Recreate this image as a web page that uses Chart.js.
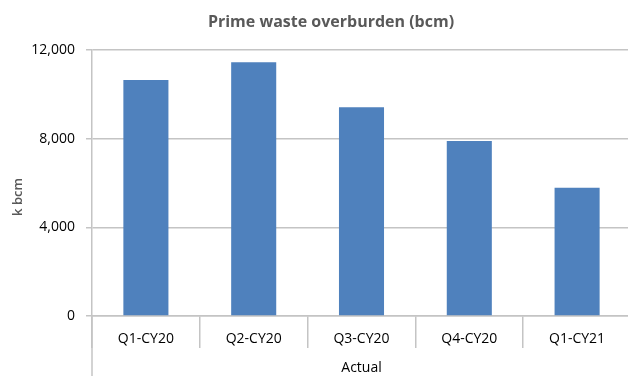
<!DOCTYPE html>
<html>
<head>
<meta charset="utf-8">
<script src="https://cdn.jsdelivr.net/npm/chart.js@4/dist/chart.umd.min.js"></script>
<style>
  html, body { margin: 0; padding: 0; background: #fff; overflow: hidden; }
  #wrap { position: relative; width: 648px; height: 376px; }
</style>
</head>
<body>
<div id="wrap"><canvas id="chart"></canvas></div>
<script>
// Quarterly prime waste overburden, thousand bank cubic metres
const categories = ['Q1-CY20', 'Q2-CY20', 'Q3-CY20', 'Q4-CY20', 'Q1-CY21'];
const overburden = [10650, 11460, 9420, 7900, 5790];
const yTicks = [0, 4000, 8000, 12000];
const groupLabel = 'Actual';
const yTitle = 'k bcm';
const chartTitle = 'Prime waste overburden (bcm)';

const GRID = '#C4C4C4';
Chart.defaults.font.family = "'Open Sans', sans-serif";

// Group bracket under the category labels plus the rotated unit label
const extras = {
  id: 'extras',
  afterDraw(chart) {
    const { ctx, chartArea } = chart;
    ctx.save();
    ctx.strokeStyle = GRID;
    ctx.lineWidth = 1.5;
    [chartArea.left, chartArea.right].forEach(px => {
      ctx.beginPath();
      ctx.moveTo(px, chartArea.bottom);
      ctx.lineTo(px, chart.height);
      ctx.stroke();
    });
    ctx.translate(18, 197);
    ctx.rotate(-Math.PI / 2);
    ctx.fillStyle = '#595959';
    ctx.font = "600 13px 'Open Sans', sans-serif";
    ctx.textAlign = 'center';
    ctx.textBaseline = 'middle';
    ctx.fillText(yTitle, 0, 0);
    ctx.restore();
  }
};

new Chart(document.getElementById('chart'), {
  type: 'bar',
  data: {
    labels: categories,
    datasets: [{
      data: overburden,
      backgroundColor: '#4F81BD',
      borderWidth: 0,
      barPercentage: 0.418,
      categoryPercentage: 1
    }]
  },
  options: {
    responsive: true,
    maintainAspectRatio: false,
    animation: false,
    layout: { padding: { left: 31, right: 17, top: 0, bottom: 0 } },
    plugins: {
      legend: { display: false },
      tooltip: { enabled: false },
      title: {
        display: true,
        text: chartTitle,
        color: '#595959',
        font: { size: 16, weight: 'bold' },
        padding: { top: 13, bottom: 18 }
      }
    },
    scales: {
      x: {
        afterFit(scale) { scale.height = 60; },
        grid: {
          offset: true,
          drawOnChartArea: false,
          tickLength: 32,
          color: GRID,
          lineWidth: 1.5
        },
        border: { color: GRID, width: 1.5 },
        ticks: { color: '#000', font: { size: 14 }, padding: -17, maxRotation: 0 },
        title: {
          display: true,
          text: groupLabel,
          color: '#000',
          font: { size: 14 },
          padding: { top: 11, bottom: 0 }
        }
      },
      y: {
        min: 0,
        max: 12000,
        afterFit(scale) { scale.width = 61; },
        afterBuildTicks(scale) { scale.ticks = yTicks.map(v => ({ value: v })); },
        grid: { color: GRID, lineWidth: 1.5, tickLength: 6 },
        border: { color: GRID, width: 1.5 },
        ticks: {
          color: '#000',
          font: { size: 14 },
          padding: 11,
          callback: v => Number(v).toLocaleString('en-US')
        }
      }
    }
  },
  plugins: [extras]
});
</script>
</body>
</html>
